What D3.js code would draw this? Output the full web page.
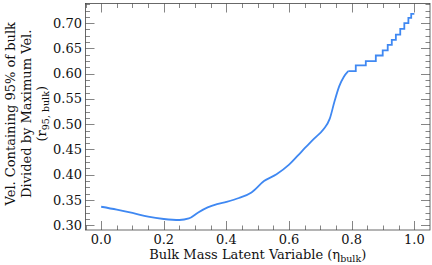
<!DOCTYPE html>
<html>
<head>
<meta charset="utf-8">
<script src="https://cdn.jsdelivr.net/npm/d3@7"></script>
<style>
  html, body { margin: 0; padding: 0; background: #fff; }
  text { font-family: "DejaVu Serif", serif; fill: #111; }
</style>
</head>
<body>
<script>
// smooth part of the curve
var smoothX = [0.00, 0.05, 0.10, 0.15, 0.20, 0.25, 0.28, 0.31, 0.34, 0.37, 0.40, 0.44, 0.48,
               0.52, 0.56, 0.60, 0.64, 0.68, 0.71, 0.73, 0.745, 0.76, 0.775, 0.789];
var smoothY = [0.3367, 0.331, 0.3245, 0.317, 0.3125, 0.3105, 0.3135, 0.3255, 0.3355, 0.342, 0.3465, 0.354, 0.365,
               0.3875, 0.401, 0.420, 0.446, 0.4717, 0.490, 0.511, 0.545, 0.575, 0.594, 0.605];
// stepped part (start of each level)
var stepX = [0.789, 0.813, 0.845, 0.877, 0.899, 0.915, 0.928, 0.941, 0.955, 0.968, 0.981, 0.990, 1.0];
var stepY = [0.605, 0.6164, 0.625, 0.636, 0.646, 0.657, 0.667, 0.6775, 0.6888, 0.700, 0.7105, 0.7184, 0.7184];

var xTicks = [0.0, 0.2, 0.4, 0.6, 0.8, 1.0];
var yTicks = [0.30, 0.35, 0.40, 0.45, 0.50, 0.55, 0.60, 0.65, 0.70];

var W = 432, H = 265;
var m = {left: 85.5, right: 2, top: 3.5, bottom: 35};

var svg = d3.select("body").append("svg")
    .attr("width", W)
    .attr("height", H);

var x = d3.scaleLinear().domain([-0.05, 1.05]).range([m.left, W - m.right]);
var y = d3.scaleLinear().domain([0.2907, 0.7389]).range([H - m.bottom, m.top]);

var x0 = m.left, x1 = W - m.right, y0 = H - m.bottom, y1 = m.top;

// minor ticks
var xMinor = d3.range(-0.05, 1.0501, 0.05).filter(function(v) { return Math.abs(v / 0.2 - Math.round(v / 0.2)) > 1e-6; });
var yMinor = d3.range(0.2875, 0.74, 0.0125).filter(function(v) { return Math.abs(v / 0.05 - Math.round(v / 0.05)) > 1e-6; });

var tk = svg.append("g").attr("stroke", "#666").attr("stroke-width", 0.8);
function tickSet(vals, len, horiz) {
  vals.forEach(function(v) {
    if (horiz) {
      var px = Math.round(x(v)) + 0.5;
      if (px < x0 || px > x1) return;
      tk.append("line").attr("x1", px).attr("x2", px).attr("y1", y0).attr("y2", y0 - len);
      tk.append("line").attr("x1", px).attr("x2", px).attr("y1", y1).attr("y2", y1 + len);
    } else {
      var py = Math.round(y(v)) + 0.5;
      if (py > y0 || py < y1) return;
      tk.append("line").attr("y1", py).attr("y2", py).attr("x1", x0).attr("x2", x0 + len);
      tk.append("line").attr("y1", py).attr("y2", py).attr("x1", x1).attr("x2", x1 - len);
    }
  });
}
tickSet(xTicks, 9, true);
tickSet(xMinor, 4.5, true);
tickSet(yTicks, 9, false);
tickSet(yMinor, 4.5, false);

// frame
svg.append("rect")
    .attr("x", x0).attr("y", y1)
    .attr("width", x1 - x0).attr("height", y0 - y1)
    .attr("fill", "none").attr("stroke", "#444").attr("stroke-width", 0.8);

// tick labels
svg.append("g").selectAll("text").data(xTicks).enter().append("text")
    .attr("x", function(d) { return x(d); })
    .attr("y", y0 + 13.5)
    .attr("text-anchor", "middle")
    .attr("font-size", 13)
    .text(function(d) { return d3.format(".1f")(d); });

svg.append("g").selectAll("text").data(yTicks).enter().append("text")
    .attr("x", x0 - 3.5)
    .attr("y", function(d) { return y(d) + 4.5; })
    .attr("text-anchor", "end")
    .attr("font-size", 13)
    .text(function(d) { return d3.format(".2f")(d); });

// x label
var xl = svg.append("text")
    .attr("x", (x0 + x1) / 2)
    .attr("y", H - 6.5)
    .attr("text-anchor", "middle")
    .attr("font-size", 13);
xl.append("tspan").text("Bulk Mass Latent Variable (η");
xl.append("tspan").attr("font-size", 9.5).attr("dy", 3).text("bulk");
xl.append("tspan").attr("dy", -3).text(")");

// y label (three lines)
var cy = (y0 + y1) / 2 - 3;
var yl = svg.append("g").attr("font-size", 13);
yl.append("text").attr("transform", "translate(15," + cy + ") rotate(-90)")
    .attr("text-anchor", "middle").text("Vel. Containing 95% of bulk");
yl.append("text").attr("transform", "translate(30.5," + cy + ") rotate(-90)")
    .attr("text-anchor", "middle").text("Divided by Maximum Vel.");
var t3 = yl.append("text").attr("transform", "translate(46," + cy + ") rotate(-90)")
    .attr("text-anchor", "middle");
t3.append("tspan").text("(r");
t3.append("tspan").attr("font-size", 9.5).attr("dy", 3).text("95, bulk");
t3.append("tspan").attr("dy", -3).text(")");

// curve
var smooth = smoothX.map(function(v, i) { return [v, smoothY[i]]; });
var steps = stepX.map(function(v, i) { return [v, stepY[i]]; });

svg.append("path")
    .datum(smooth)
    .attr("fill", "none")
    .attr("stroke", "#3f88f2")
    .attr("stroke-width", 1.8)
    .attr("d", d3.line().x(function(d) { return x(d[0]); }).y(function(d) { return y(d[1]); }).curve(d3.curveMonotoneX));

svg.append("path")
    .datum(steps)
    .attr("fill", "none")
    .attr("stroke", "#3f88f2")
    .attr("stroke-width", 1.8)
    .attr("d", d3.line().x(function(d) { return x(d[0]); }).y(function(d) { return y(d[1]); }).curve(d3.curveStepAfter));
</script>
</body>
</html>
